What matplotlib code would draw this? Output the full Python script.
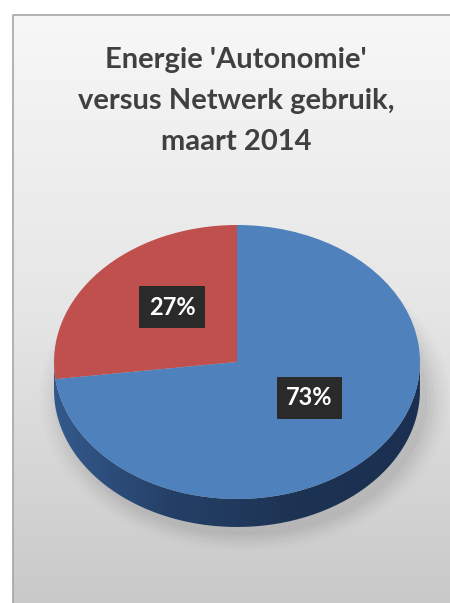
import numpy as np
import matplotlib
matplotlib.use("Agg")
import matplotlib.pyplot as plt
from matplotlib.colors import LinearSegmentedColormap
from matplotlib.patches import Ellipse, PathPatch
from matplotlib.path import Path

categories = ["Netwerk", "Autonomie"]
shares = [27, 73]
colors = ["#c0504d", "#4f81bd"]
title = "Energie 'Autonomie'\nversus Netwerk gebruik,\nmaart 2014"

plt.rcParams["font.family"] = ["Lato", "DejaVu Sans"]

W, H = 450, 603
fig = plt.figure(figsize=(W / 100, H / 100), dpi=100)
fig.patch.set_facecolor("white")

# background panel with vertical gradient
bg = fig.add_axes([0, 0, 1, 1])
bg.set_xlim(0, W)
bg.set_ylim(H, 0)
bg.axis("off")
grad = np.linspace(0, 1, 256).reshape(-1, 1)
bg_cmap = LinearSegmentedColormap.from_list("bg", ["#f7f7f7", "#e6e6e6", "#c9c9c9"])
bg.imshow(grad, cmap=bg_cmap, extent=[13, W, H, 15], aspect="auto", zorder=0)
bg.plot([13, 13, W], [H, 15, 15], color="#a6a6a6", lw=1.2, zorder=1)
bg.text(236, 101, title, ha="center", va="center", fontsize=21, fontweight="bold",
        color="#404040", linespacing=1.7)

# pie axes: top face ellipse plus the side depth
depth = 28 / 137
left, right, top, bottom = 54, 420, 225, 527
ax = fig.add_axes([left / W, 1 - bottom / H, (right - left) / W, (bottom - top) / H])
ax.set_xlim(-1, 1)
ax.set_ylim(-1 - depth, 1)
ax.axis("off")

# soft shadow under the pie
for i, a in enumerate(np.linspace(0.07, 0.025, 7)):
    s = 1 + i * 0.02
    ax.add_patch(Ellipse((0.04, -depth - 0.06), 2 * s, 2 * s, fc="#7f7f7f", ec="none",
                         alpha=a, zorder=1, clip_on=False))

# side of the cylinder
t = np.linspace(np.pi, 2 * np.pi, 200)
xs = np.concatenate([np.cos(t), np.cos(t[::-1])])
ys = np.concatenate([np.sin(t), np.sin(t[::-1]) - depth])
side_path = Path(np.column_stack([xs, ys]))
side_patch = PathPatch(side_path, fc="none", ec="none", transform=ax.transData)
ax.add_patch(side_patch)
side_cmap = LinearSegmentedColormap.from_list("side", ["#33598c", "#243f66", "#1d3353", "#1b3050"])
im = ax.imshow(np.linspace(0, 1, 256).reshape(1, -1), cmap=side_cmap,
               extent=[-1, 1, -1 - depth, 0], aspect="auto", zorder=2)
im.set_clip_path(side_patch)

wedges, texts, autotexts = ax.pie(
    shares, colors=colors, startangle=90, counterclock=True,
    autopct="%d%%", pctdistance=0.5, radius=1,
    wedgeprops=dict(edgecolor="none", zorder=3),
    textprops=dict(color="white", fontsize=17, fontweight="bold"))
for w in wedges:
    w.set_zorder(3)
for txt in autotexts:
    x, y = txt.get_position()
    txt.set_position((x + 0.02, y + 0.07))
    txt.set_zorder(5)
    txt.set_bbox(dict(boxstyle="square,pad=0.4", fc="#2a2a2a", ec="none"))

ax.set_aspect("auto")
ax.set_xlim(-1, 1)
ax.set_ylim(-1 - depth, 1)

fig.savefig("out.png", dpi=100)
